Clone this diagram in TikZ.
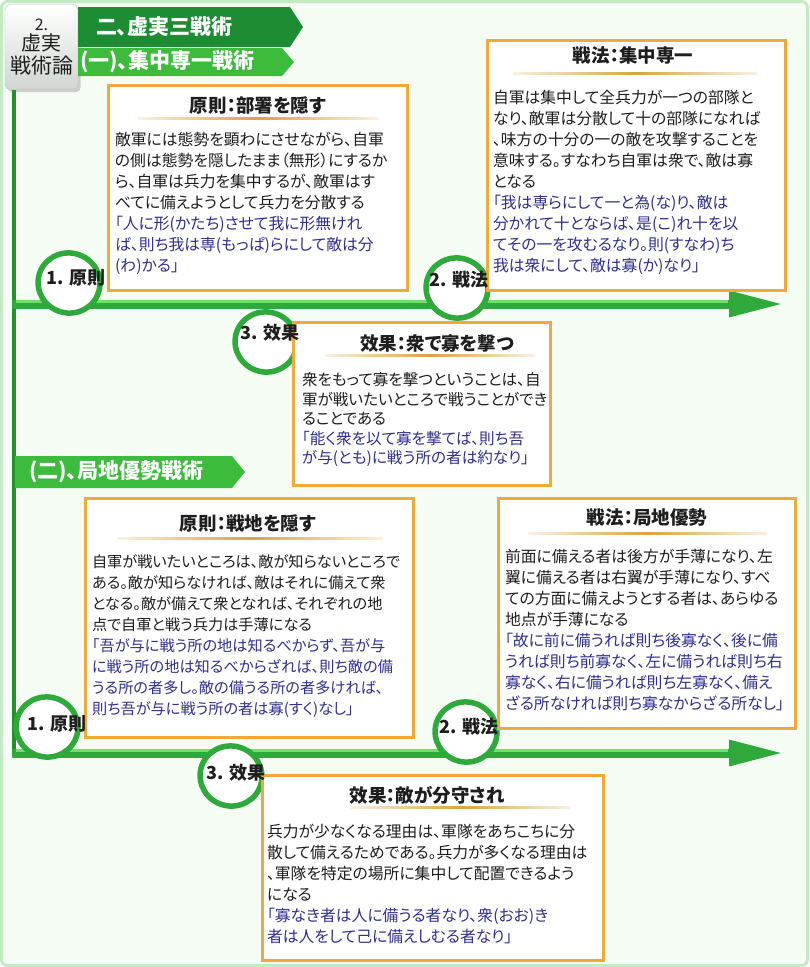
\documentclass[tikz,border=0pt]{standalone}
\usepackage{fontspec}
\setmainfont{Noto Sans CJK JP}[RawFeature=+palt]
\usetikzlibrary{arrows.meta,positioning,calc,shapes.geometric,shadows}

\definecolor{pagebg}{HTML}{F4FCF4}
\definecolor{pageframe}{HTML}{C4EAC4}
\definecolor{banddark}{HTML}{1E8C32}
\definecolor{bandlight}{HTML}{3DBB3D}
\definecolor{spinegreen}{HTML}{238F30}
\definecolor{flowgreen}{HTML}{2FA83C}
\definecolor{flowlight}{HTML}{72DE6C}
\definecolor{boxorange}{HTML}{F2A93B}
\definecolor{rulegold}{HTML}{D9A441}
\definecolor{quoteblue}{HTML}{2F2F8F}
\definecolor{bodyink}{HTML}{1E1E1E}

\begin{document}
\begin{tikzpicture}[
  x=1pt,y=-1pt,
  every node/.style={inner sep=0pt,outer sep=0pt},
  hdrbox/.style={rounded corners=5pt,draw=black!25,top color=white,bottom color=green!10!black!18,
    drop shadow={opacity=0.35},minimum width=73pt,minimum height=85pt,align=center,text=bodyink},
  bandtxt/.style={anchor=west,text=white,font=\bfseries\fontsize{21}{23}\selectfont},
  card/.style={draw=boxorange,line width=3pt,fill=white,anchor=north west},
  ttl/.style={font=\bfseries\fontsize{18.5}{20}\selectfont,text=bodyink},
  body/.style={anchor=north west,align=left,text=bodyink,font=\fontsize{15.8}{21}\selectfont},
  flow/.style={draw=flowgreen,line width=9pt,-{Triangle[length=55pt,width=24pt]}},
  shine/.style={draw=flowlight,line width=3pt},
  spine/.style={draw=spinegreen,line width=4pt},
  ring/.style={ellipse,draw=flowgreen,line width=5.5pt,fill=white,minimum width=62pt,minimum height=60pt,rotate=-15},
  tag/.style={font=\bfseries\fontsize{18}{20}\selectfont,text=bodyink}
]
% ---------- page
\node[fill=pagebg,draw=pageframe,line width=3pt,rounded corners=6pt,minimum width=806pt,minimum height=964pt,anchor=north west] (page) at (1.5,1.5) {};
\useasboundingbox (0,0) rectangle (809,967);

% ---------- spine and flow arrows
\coordinate (spineB) at (14,757);
\coordinate (flowA0) at (12,304);
\coordinate (flowA1) at (784,304);
\coordinate (flowB0) at (12,753);
\coordinate (flowB1) at (784,753);
\node[hdrbox] (hdr) at (41.5,47) {{\fontsize{16}{18}\selectfont 2.}\\[2pt]{\fontsize{20}{22}\selectfont 虚実}\\[2pt]{\fontsize{21}{23}\selectfont 戦術論}};
\draw[spine] (hdr.south west -| spineB) -- (spineB);
\draw[flow] (flowA0) -- (flowA1);
\draw[shine] ($(flowA0)+(4,-2.5)$) -- ($(flowA1)+(-56,-2.5)$);
\draw[flow] (flowB0) -- (flowB1);
\draw[shine] ($(flowB0)+(4,-2.5)$) -- ($(flowB1)+(-56,-2.5)$);

% ---------- banners
\fill[banddark] (78,7) -- (290,7) -- (303,27) -- (290,47) -- (78,47) -- cycle;
\node[bandtxt] (bandA) at (96,27) {二、虚実三戦術};
\fill[bandlight] (78,48) -- (282,48) -- (294,62) -- (282,76) -- (78,76) -- cycle;
\node[bandtxt] (bandB) at (80,62) {(一)、集中専一戦術};
\fill[bandlight] (15,456) -- (232,456) -- (245,472) -- (232,488) -- (15,488) -- cycle;
\node[bandtxt] (bandC) at (29,472) {(二)、局地優勢戦術};

% ---------- step rings
\foreach \n/\x/\y in {a/69/283, b/457/288, c/266/342, d/47/727, e/466/732, f/231/776}{
  \node[ring] (ring\n) at (\x,\y) {};
}

% ---------- cards, section one
\node[card,minimum width=299pt,minimum height=205pt] (cardA) at (108,85) {};
\node[ttl] (ttlA) at (258,105) {原則：部署を隠す};
\shade[left color=rulegold!15,right color=rulegold!15,middle color=rulegold] (138,117) rectangle (378,119.5);
\node[body] (txtA) at (115,132.5) {敵軍には態勢を顕わにさせながら、自軍\\の側は態勢を隠したまま（無形）にするか\\ら、自軍は兵力を集中するが、敵軍はす\\べてに備えようとして兵力を分散する\\
\color{quoteblue}「人に形(かたち)させて我に形無けれ\\\color{quoteblue}ば、則ち我は専(もっぱ)らにして敵は分\\\color{quoteblue}(わ)かる」};

\node[card,minimum width=298pt,minimum height=250pt] (cardB) at (487,40) {};
\node[ttl] (ttlB) at (633,55) {戦法：集中専一};
\shade[left color=rulegold!15,right color=rulegold!15,middle color=rulegold] (513,72) rectangle (757,74.5);
\node[body] (txtB) at (493,90.5) {自軍は集中して全兵力が一つの部隊と\\なり、敵軍は分散して十の部隊になれば\\、味方の十分の一の敵を攻撃することを\\意味する。すなわち自軍は衆で、敵は寡\\となる\\
\color{quoteblue}「我は専らにして一と為(な)り、敵は\\\color{quoteblue}分かれて十とならば、是(こ)れ十を以\\\color{quoteblue}てその一を攻むるなり。則(すなわ)ち\\\color{quoteblue}我は衆にして、敵は寡(か)なり」};

\node[card,minimum width=257pt,minimum height=163pt] (cardC) at (293,322) {};
\node[ttl] (ttlC) at (437,343) {效果：衆で寡を撃つ};
\shade[left color=rulegold!15,right color=rulegold!15,middle color=rulegold] (325,354) rectangle (535,356.5);
\node[body,font=\fontsize{15.6}{19.5}\selectfont] (txtC) at (302,372.5) {衆をもって寡を撃つということは、自\\軍が戦いたいところで戦うことができ\\ることである\\
\color{quoteblue}「能く衆を以て寡を撃てば、則ち吾\\\color{quoteblue}が与(とも)に戦う所の者は約なり」};

% ---------- cards, section two
\node[card,minimum width=328pt,minimum height=239pt] (cardD) at (85,498) {};
\node[ttl] (ttlD) at (248,523) {原則：戦地を隠す};
\shade[left color=rulegold!15,right color=rulegold!15,middle color=rulegold] (117,537) rectangle (383,539.5);
\node[body,font=\fontsize{15.2}{21}\selectfont] (txtD) at (92,554.5) {自軍が戦いたいところは、敵が知らないところで\\ある。敵が知らなければ、敵はそれに備えて衆\\となる。敵が備えて衆となれば、それぞれの地\\点で自軍と戦う兵力は手薄になる\\
\color{quoteblue}「吾が与に戦う所の地は知るべからず、吾が与\\\color{quoteblue}に戦う所の地は知るべからざれば、則ち敵の備\\\color{quoteblue}うる所の者多し。敵の備うる所の者多ければ、\\\color{quoteblue}則ち吾が与に戦う所の者は寡(すく)なし」};

\node[card,minimum width=297pt,minimum height=230pt] (cardE) at (498,498) {};
\node[ttl] (ttlE) at (647,517) {戦法：局地優勢};
\shade[left color=rulegold!15,right color=rulegold!15,middle color=rulegold] (528,532) rectangle (767,534.5);
\node[body] (txtE) at (505,549.5) {前面に備える者は後方が手薄になり、左\\翼に備える者は右翼が手薄になり、すべ\\ての方面に備えようとする者は、あらゆる\\地点が手薄になる\\
\color{quoteblue}「故に前に備うれば則ち後寡なく、後に備\\\color{quoteblue}うれば則ち前寡なく、左に備うれば則ち右\\\color{quoteblue}寡なく、右に備うれば則ち左寡なく、備え\\\color{quoteblue}ざる所なければ則ち寡なからざる所なし」};

\node[card,minimum width=341pt,minimum height=185pt] (cardF) at (262,775) {};
\node[ttl] (ttlF) at (427,795) {效果：敵が分守され};
\shade[left color=rulegold!15,right color=rulegold!15,middle color=rulegold] (350,806) rectangle (570,808.5);
\node[body] (txtF) at (267,824.5) {兵力が少なくなる理由は、軍隊をあちこちに分\\散して備えるためである。兵力が多くなる理由は\\、軍隊を特定の場所に集中して配置できるよう\\になる\\
\color{quoteblue}「寡なき者は人に備うる者なり、衆(おお)き\\\color{quoteblue}者は人をして己に備えしむる者なり」};

% ---------- step tags
\foreach \n/\x/\y/\t in {a/76/278/1. 原則, b/459/280/2. 戦法, c/270/333/3. 效果, d/57/724/1. 原則, e/469/727/2. 戦法, f/236/773/3. 效果}{
  \node[tag] (tag\n) at (\x,\y) {\t};
}
\end{tikzpicture}
\end{document}
